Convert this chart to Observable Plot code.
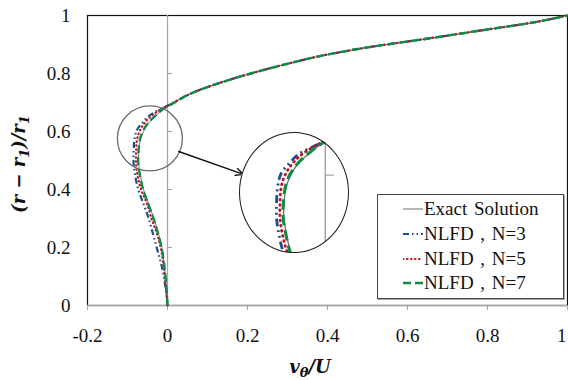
<!DOCTYPE html>
<html>
<head>
<meta charset="utf-8">
<script src="https://cdn.jsdelivr.net/npm/d3@7"></script>
<script src="https://cdn.jsdelivr.net/npm/@observablehq/plot@0.6"></script>
<style>
  html, body { margin: 0; padding: 0; background: #fff; }
  #wrap { position: relative; width: 568px; height: 380px; overflow: hidden; }
  #wrap svg text { font-family: 'Liberation Serif', 'Times New Roman', 'DejaVu Serif', serif; }
  #wrap svg text.math { font-family: 'DejaVu Serif', 'Liberation Serif', serif; }
  #inset { position: absolute; left: 239px; top: 132px; width: 110px; height: 121px;
           clip-path: ellipse(50% 50% at 50% 50%); background: #fff; }
  #insetRing { position: absolute; left: 239px; top: 132px; width: 110px; height: 121px;
               box-sizing: border-box; border: 1.5px solid #1a1a1a; border-radius: 50%; pointer-events: none; }
  #legend { position: absolute; left: 377px; top: 194px; width: 187px; height: 105px; box-sizing: border-box;
            border: 1.5px solid #444; background: #fff; box-shadow: 1px 1px 0 #aaa;
            font-family: 'Liberation Serif', 'Times New Roman', serif; font-size: 19px; color: #111; }
  .row { position: absolute; left: 0; height: 24px; display: flex; align-items: center; white-space: pre; word-spacing: 2px; }
  .row svg { display: block; margin-left: 25px; margin-right: 1px; }
</style>
</head>
<body>
<div id="wrap"></div>
<script>
// ---- data ----
const yLevels = [0, 0.05, 0.1, 0.15, 0.2, 0.25, 0.3, 0.35, 0.4, 0.45, 0.5, 0.55, 0.6, 0.63, 0.66, 0.68, 0.7, 0.72, 0.74, 0.77, 0.8, 0.83, 0.86, 0.89, 0.92, 0.95, 0.975, 1];
const exactX = [0, -0.002, -0.005, -0.009, -0.014, -0.023, -0.034, -0.047, -0.06, -0.068, -0.0725, -0.0705, -0.06, -0.047, -0.025, -0.007, 0.017, 0.042, 0.074, 0.136, 0.208, 0.29, 0.381, 0.5, 0.649, 0.791, 0.91, 1];
const n3X    = [0, -0.004, -0.009, -0.017, -0.027, -0.037, -0.047, -0.06, -0.073, -0.081, -0.085, -0.084, -0.078, -0.063, -0.04, -0.012, 0.015, 0.042, 0.074, 0.136, 0.208, 0.29, 0.381, 0.5, 0.649, 0.791, 0.91, 1];
const n5X    = [0, -0.003, -0.007, -0.011, -0.017, -0.027, -0.04, -0.051, -0.066, -0.075, -0.079, -0.078, -0.07, -0.057, -0.035, -0.012, 0.016, 0.042, 0.074, 0.136, 0.208, 0.29, 0.381, 0.5, 0.649, 0.791, 0.91, 1];
const n7X    = [0, -0.002, -0.005, -0.009, -0.015, -0.024, -0.035, -0.048, -0.061, -0.069, -0.0735, -0.0715, -0.062, -0.048, -0.026, -0.008, 0.018, 0.042, 0.074, 0.136, 0.208, 0.29, 0.381, 0.5, 0.649, 0.791, 0.91, 1];

const seriesNames = ["Exact Solution", "NLFD , N=3", "NLFD , N=5", "NLFD , N=7"];
const xTicks = [-0.2, 0, 0.2, 0.4, 0.6, 0.8, 1];
const xTickLabels = ["-0.2", "0", "0.2", "0.4", "0.6", "0.8", "1"];
const yTicks = [0, 0.2, 0.4, 0.6, 0.8, 1];
const yTickLabels = ["0", "0.2", "0.4", "0.6", "0.8", "1"];
const yAxisInnerTicks = [0.2, 0.4, 0.6, 0.8];
// zoom annotation: small circle centre and arrow (data units)
const zoomCircle = [{x: -0.044, y: 0.576}];
const zoomArrow = [{x1: 0.028, y1: 0.531, x2: 0.19, y2: 0.452}];
// inset view window
const insetXDomain = [-0.1491, 0.0421];
const insetYDomain = [0.3969, 0.7104];
const insetTick = [0.6];

// ---- styles ----
const styles = [
  {stroke: "#6e6e6e", strokeWidth: 1, dash: null},
  {stroke: "#1F4E8C", strokeWidth: 2.2, dash: "6,3,1.5,3,1.5,3"},
  {stroke: "#C0141E", strokeWidth: 2.2, dash: "0.5,3.5", cap: "round"},
  {stroke: "#0E8C45", strokeWidth: 2.4, dash: "8,4"}
];
const allX = [exactX, n3X, n5X, n7X];
const series = allX.map((xs, k) => yLevels.map((y, i) => ({x: xs[i], y, s: seriesNames[k]})));

function lineMarks(widthScale) {
  return series.map((d, k) => Plot.line(d, {
    x: "x", y: "y", curve: "monotone-y",
    stroke: styles[k].stroke,
    strokeWidth: styles[k].strokeWidth * widthScale,
    strokeDasharray: styles[k].dash ? styles[k].dash.split(",").map(v => +v * widthScale).join(",") : null,
    strokeLinecap: styles[k].cap || "butt"
  }));
}

const gray = "#A6A6A6";
const chart = Plot.plot({
  width: 568, height: 380,
  marginLeft: 87, marginRight: 1, marginTop: 15, marginBottom: 75,
  x: {domain: [-0.2, 1]},
  y: {domain: [0, 1]},
  style: {fontFamily: "'Liberation Serif', 'Times New Roman', serif", fontSize: "19px", background: "#fff", color: "#111"},
  marks: [
    Plot.frame({stroke: "#111", strokeWidth: 1.2}),
    Plot.ruleX([0], {stroke: gray, strokeWidth: 1.3}),
    Plot.ruleY(yAxisInnerTicks, {x1: 0, x2: 0.0125, stroke: gray, strokeWidth: 1.2}),
    Plot.ruleY([0], {stroke: gray, strokeWidth: 1.5}),
    Plot.axisX(xTicks, {tickFormat: d => xTickLabels[xTicks.indexOf(d)], tickSize: 5, tickPadding: 18, stroke: gray, fill: "#111", label: null}),
    Plot.axisY(yTicks, {tickFormat: d => yTickLabels[yTicks.indexOf(d)], tickSize: 0, tickPadding: 17, fill: "#111", label: null}),
    ...lineMarks(1),
    Plot.dot(zoomCircle, {x: "x", y: "y", r: 32.5, stroke: "#6a6a6a", strokeWidth: 1.3, fill: "none"}),
    Plot.arrow(zoomArrow, {x1: "x1", y1: "y1", x2: "x2", y2: "y2", stroke: "#111", strokeWidth: 1.4, headLength: 9, headAngle: 50})
  ]
});

const svg = d3.select(chart);
// keep the last x tick label ("1") inside the picture, as in the reference
svg.selectAll("text")
  .filter(function() {
    const lab = (this.parentNode && this.parentNode.getAttribute && this.parentNode.getAttribute("aria-label")) || "";
    return this.textContent === "1" && lab.indexOf("x-axis") === 0;
  })
  .attr("text-anchor", "end").attr("dx", -1);

// axis titles (math-style italic with subscripts)
const xt = svg.append("text").attr("class", "math")
  .attr("x", 310).attr("y", 373).attr("text-anchor", "middle")
  .attr("font-weight", "bold").attr("font-style", "italic")
  .attr("font-size", 18).attr("fill", "#111");
xt.append("tspan").text("v");
xt.append("tspan").attr("dy", 4).attr("font-size", 13).text("θ");
xt.append("tspan").attr("dy", -4).text("/U");

const yt = svg.append("text").attr("class", "math")
  .attr("transform", "translate(25,164) rotate(-90)").attr("text-anchor", "middle")
  .attr("font-weight", "bold").attr("font-style", "italic")
  .attr("font-size", 18).attr("fill", "#111");
yt.append("tspan").text("(r − r");
yt.append("tspan").attr("dy", 4).attr("font-size", 13).text("1");
yt.append("tspan").attr("dy", -4).text(")/r");
yt.append("tspan").attr("dy", 4).attr("font-size", 13).text("1");

const wrap = document.getElementById("wrap");
wrap.appendChild(chart);

// inset (magnified view)
const inset = Plot.plot({
  width: 110, height: 121,
  margin: 0,
  x: {domain: insetXDomain, axis: null},
  y: {domain: insetYDomain, axis: null},
  style: {background: "#fff"},
  marks: [
    Plot.ruleX([0], {stroke: gray, strokeWidth: 1.5}),
    Plot.ruleY(insetTick, {x1: 0, x2: 0.016, stroke: gray, strokeWidth: 1.3}),
    ...lineMarks(1.3)
  ]
});
const insetDiv = document.createElement("div");
insetDiv.id = "inset";
insetDiv.appendChild(inset);
wrap.appendChild(insetDiv);
const ring = document.createElement("div");
ring.id = "insetRing";
wrap.appendChild(ring);

// legend
const legend = document.createElement("div");
legend.id = "legend";
const rowTops = [2, 27, 52, 76];
seriesNames.forEach((name, k) => {
  const row = document.createElement("div");
  row.className = "row";
  row.style.top = rowTops[k] + "px";
  const s = d3.create("svg").attr("width", 20).attr("height", 10);
  s.append("line").attr("x1", 0).attr("x2", 20).attr("y1", 5).attr("y2", 5)
    .attr("stroke", styles[k].stroke).attr("stroke-width", styles[k].strokeWidth)
    .attr("stroke-dasharray", styles[k].dash).attr("stroke-linecap", styles[k].cap || "butt");
  row.appendChild(s.node());
  const t = document.createElement("span");
  t.textContent = name;
  row.appendChild(t);
  legend.appendChild(row);
});
wrap.appendChild(legend);
</script>
</body>
</html>
